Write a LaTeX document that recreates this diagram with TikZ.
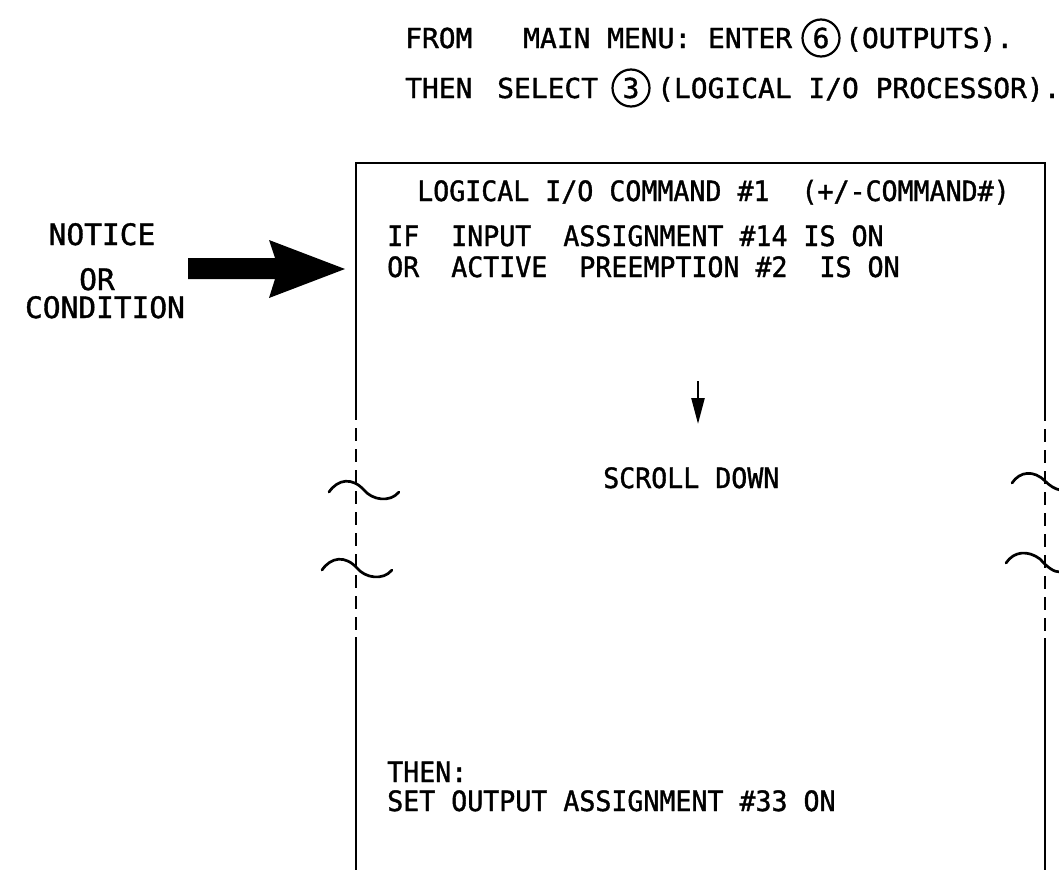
\documentclass[tikz,border=0pt]{standalone}
\usepackage{fontspec}
\newfontfamily\topfont[FakeStretch=1.015,FakeBold=1.3]{DejaVu Sans Mono}
\newfontfamily\boxfont[FakeStretch=0.95,FakeBold=1.3]{DejaVu Sans Mono}
\newfontfamily\sidefont[FakeStretch=1.0,FakeBold=1.3]{DejaVu Sans Mono}
\usetikzlibrary{arrows.meta}
\begin{document}
\begin{tikzpicture}[x=1pt,y=-1pt,
  toptext/.style={inner sep=0pt, anchor=base west, font=\topfont\fontsize{27.5}{30}\selectfont},
  boxtext/.style={inner sep=0pt, anchor=base west, font=\boxfont\fontsize{28}{30}\selectfont},
  sidetext/.style={inner sep=0pt, anchor=base, font=\sidefont\fontsize{29.5}{32}\selectfont},
  numcircle/.style={circle, draw, line width=2.2pt, minimum size=37pt, inner sep=0pt, font=\topfont\fontsize{27.5}{28}\selectfont},
  frame/.style={line width=2.2pt},
  dashframe/.style={line width=2.6pt, dash pattern=on 13pt off 8pt},
  breakmark/.style={line width=2.7pt, line cap=round},
  scrollarrow/.style={line width=2.4pt, -{Triangle[length=26pt,width=13pt]}},
]
\useasboundingbox (0,0) rectangle (1059,870);

% frame of the screen (open at the bottom)
\coordinate (tl) at (356,163);
\coordinate (tr) at (1045,163);
\coordinate (ld1) at (356,407);
\coordinate (ld2) at (356,637);
\coordinate (lb) at (356,870);
\coordinate (rd1) at (1045,408);
\coordinate (rd2) at (1045,638);
\coordinate (rb) at (1045,870);
\draw[frame] (ld1) -- (tl) -- (tr) -- (rd1);
\draw[dashframe] (ld1) -- (ld2);
\draw[dashframe] (rd1) -- (rd2);
\draw[frame] (ld2) -- (lb);
\draw[frame] (rd2) -- (rb);

% break marks
\draw[breakmark] (329,492) .. controls (338,479) and (352,477) .. (364,490) .. controls (372,500) and (390,503) .. (399,492);
\draw[breakmark] (322,570) .. controls (331,557) and (345,555) .. (357,568) .. controls (365,578) and (383,581) .. (392,570);
\draw[breakmark] (1012,483) .. controls (1020,471) and (1034,470) .. (1045,481) .. controls (1050,486) and (1055,489) .. (1060,490);
\draw[breakmark] (1006,563) .. controls (1014,551) and (1028,550) .. (1040,559) .. controls (1048,568) and (1054,572) .. (1060,572);

% big arrow
\fill (188,258) -- (275,258) -- (269,240) -- (345,269) -- (269,298) -- (275,279) -- (188,279) -- cycle;

% top instructions
\node[toptext] (from) at (405,48) {FROM};
\node[toptext] (mainmenu) at (523,48) {MAIN MENU: ENTER};
\node[numcircle] (six) at (821,38) {6};
\node[toptext] (outputs) at (845,48) {(OUTPUTS).};
\node[toptext] (then1) at (405,98) {THEN};
\node[toptext] (select) at (497,98) {SELECT};
\node[numcircle] (three) at (631,88) {3};
\node[toptext] (logical) at (657,98) {(LOGICAL I/O PROCESSOR).};

% side label
\node[sidetext] (notice) at (102,245) {NOTICE};
\node[sidetext] (ortxt) at (97,290) {OR};
\node[sidetext] (cond) at (105,318) {CONDITION};

% screen contents
\node[boxtext] (header) at (417,201) {LOGICAL I/O COMMAND \#1\ \ (+/-COMMAND\#)};
\node[boxtext] (ifline) at (387,246) {IF\ \ INPUT\ \ ASSIGNMENT \#14 IS ON};
\node[boxtext] (orline) at (387,277) {OR\ \ ACTIVE\ \ PREEMPTION \#2\ \ IS ON};
\coordinate (sa) at (698,381);
\coordinate (sb) at (698,424);
\draw[scrollarrow] (sa) -- (sb);
\node[boxtext] (scroll) at (603,488) {SCROLL DOWN};
\node[boxtext] (thenc) at (387,782) {THEN:};
\node[boxtext] (setout) at (387,811) {SET OUTPUT ASSIGNMENT \#33 ON};
\end{tikzpicture}
\end{document}
